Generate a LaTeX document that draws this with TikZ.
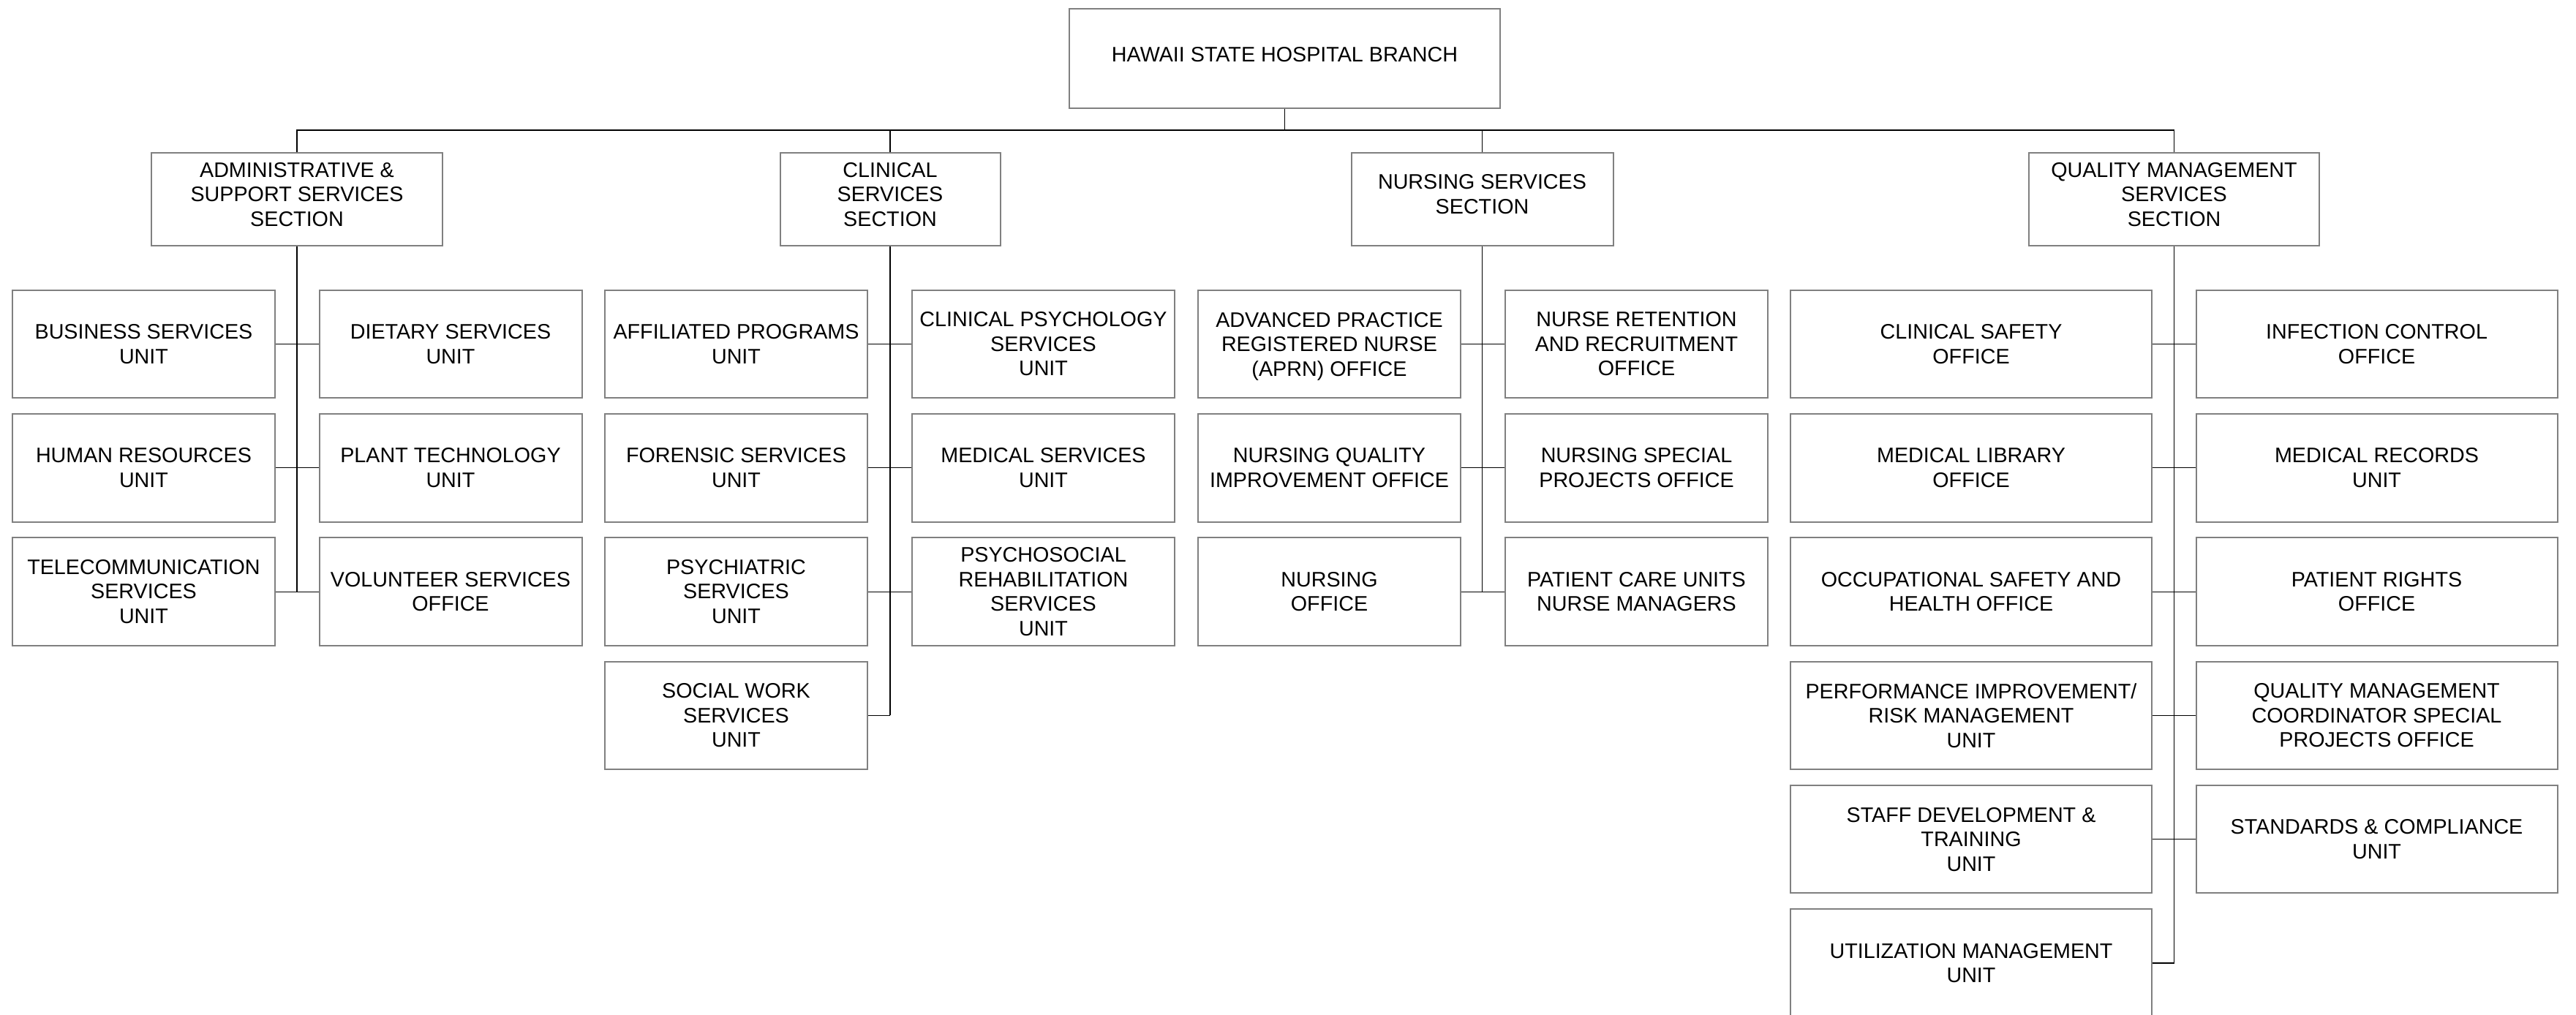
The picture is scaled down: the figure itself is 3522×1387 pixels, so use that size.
\documentclass[tikz,border=0pt]{standalone}
\usepackage{fontspec}
\setmainfont{Liberation Sans}
\definecolor{boxgray}{HTML}{808080}
\begin{document}
\begin{tikzpicture}[x=1pt,y=-1pt,
  box/.style={draw=boxgray, line width=2pt, fill=white, rectangle, inner sep=0pt,
    align=center, minimum height=147.5pt, minimum width=359pt,
    font=\fontsize{28.7}{33.5}\selectfont},
  wide/.style={minimum width=494pt},
  sec/.style={box, minimum height=127pt, text depth=14pt},
  link/.style={draw=black, line width=1.2pt}]
\useasboundingbox (0,0) rectangle (3522,1387);
\fill[white] (0,0) rectangle (3522,1387);
\clip (0,0) rectangle (3522,1387);

% top and sections
\node[box, minimum width=589pt, minimum height=136pt, text depth=11pt] (top) at (1756.5,79.5) {HAWAII STATE HOSPITAL BRANCH};
\node[sec, minimum width=398pt] (adm) at (406,272.5) {ADMINISTRATIVE \&\\SUPPORT SERVICES\\SECTION};
\node[sec, minimum width=301pt] (cli) at (1217,272.5) {CLINICAL\\SERVICES\\SECTION};
\node[sec, minimum width=358pt] (nur) at (2026.5,272.5) {NURSING SERVICES\\SECTION};
\node[sec, minimum width=397pt] (qm) at (2972.5,272.5) {QUALITY MANAGEMENT\\SERVICES\\SECTION};

% administrative
\node[box] (a1l) at (196.5,470.5) {BUSINESS SERVICES\\UNIT};
\node[box] (a1r) at (616,470.5) {DIETARY SERVICES\\UNIT};
\node[box] (a2l) at (196.5,639.8) {HUMAN RESOURCES\\UNIT};
\node[box] (a2r) at (616,639.8) {PLANT TECHNOLOGY\\UNIT};
\node[box] (a3l) at (196.5,809.1) {TELECOMMUNICATION\\SERVICES\\UNIT};
\node[box] (a3r) at (616,809.1) {VOLUNTEER SERVICES\\OFFICE};

% clinical
\node[box] (c1l) at (1006.5,470.5) {AFFILIATED PROGRAMS\\UNIT};
\node[box] (c1r) at (1426.5,470.5) {CLINICAL PSYCHOLOGY\\SERVICES\\UNIT};
\node[box] (c2l) at (1006.5,639.8) {FORENSIC SERVICES\\UNIT};
\node[box] (c2r) at (1426.5,639.8) {MEDICAL SERVICES\\UNIT};
\node[box] (c3l) at (1006.5,809.1) {PSYCHIATRIC\\SERVICES\\UNIT};
\node[box] (c3r) at (1426.5,809.1) {PSYCHOSOCIAL\\REHABILITATION\\SERVICES\\UNIT};
\node[box] (c4l) at (1006.5,978.4) {SOCIAL WORK\\SERVICES\\UNIT};

% nursing
\node[box, text depth=0pt] (n1l) at (1817.5,470.5) {ADVANCED PRACTICE\\REGISTERED NURSE\\(APRN) OFFICE};
\node[box] (n1r) at (2237.5,470.5) {NURSE RETENTION\\AND RECRUITMENT\\OFFICE};
\node[box] (n2l) at (1817.5,639.8) {NURSING QUALITY\\IMPROVEMENT OFFICE};
\node[box] (n2r) at (2237.5,639.8) {NURSING SPECIAL\\PROJECTS OFFICE};
\node[box] (n3l) at (1817.5,809.1) {NURSING\\OFFICE};
\node[box] (n3r) at (2237.5,809.1) {PATIENT CARE UNITS\\NURSE MANAGERS};

% quality management
\node[box, wide] (q1l) at (2695,470.5) {CLINICAL SAFETY\\OFFICE};
\node[box, wide] (q1r) at (3249.5,470.5) {INFECTION CONTROL\\OFFICE};
\node[box, wide] (q2l) at (2695,639.8) {MEDICAL LIBRARY\\OFFICE};
\node[box, wide] (q2r) at (3249.5,639.8) {MEDICAL RECORDS\\UNIT};
\node[box, wide] (q3l) at (2695,809.1) {OCCUPATIONAL SAFETY AND\\HEALTH OFFICE};
\node[box, wide] (q3r) at (3249.5,809.1) {PATIENT RIGHTS\\OFFICE};
\node[box, wide] (q4l) at (2695,978.4) {PERFORMANCE IMPROVEMENT/\\RISK MANAGEMENT\\UNIT};
\node[box, wide] (q4r) at (3249.5,978.4) {QUALITY MANAGEMENT\\COORDINATOR SPECIAL\\PROJECTS OFFICE};
\node[box, wide] (q5l) at (2695,1147.7) {STAFF DEVELOPMENT \&\\TRAINING\\UNIT};
\node[box, wide] (q5r) at (3249.5,1147.7) {STANDARDS \& COMPLIANCE\\UNIT};
\node[box, wide] (q6l) at (2695,1317) {UTILIZATION MANAGEMENT\\UNIT};

% bus
\coordinate (bus) at (0,178);
\draw[link] (top.south) -- (top.south |- bus);
\draw[link] (adm.north) -- (adm.north |- bus) -- (qm.north |- bus) -- (qm.north);
\draw[link] (cli.north) -- (cli.north |- bus);
\draw[link] (nur.north) -- (nur.north |- bus);

% trunks
\draw[link] (adm.south) -- (adm.south |- a3l.east);
\draw[link] (cli.south) -- (cli.south |- c4l.east);
\draw[link] (nur.south) -- (nur.south |- n3l.east);
\draw[link] (qm.south) -- (qm.south |- q6l.east);

% branches
\foreach \a/\b in {a1l/a1r,a2l/a2r,a3l/a3r,c1l/c1r,c2l/c2r,c3l/c3r,n1l/n1r,n2l/n2r,n3l/n3r,q1l/q1r,q2l/q2r,q3l/q3r,q4l/q4r,q5l/q5r}
  \draw[link] (\a.east) -- (\b.west);
\draw[link] (c4l.east) -- (c4l.east -| cli.south);
\draw[link] (q6l.east) -- (q6l.east -| qm.south);
\end{tikzpicture}
\end{document}
